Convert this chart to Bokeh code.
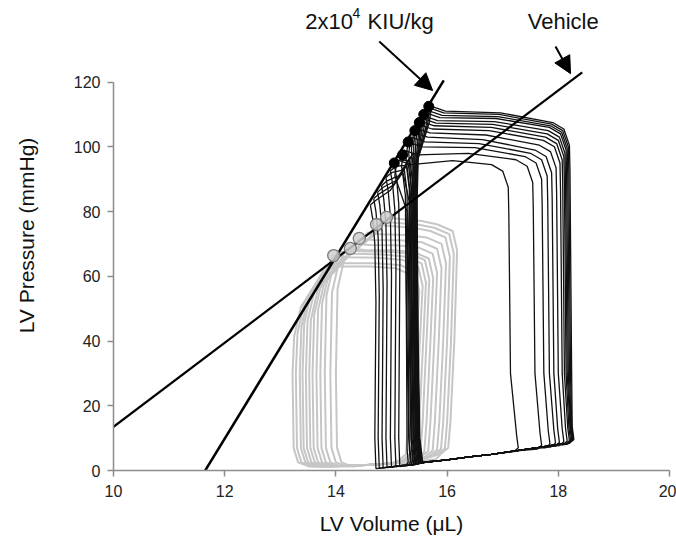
from bokeh.plotting import figure
from bokeh.models import FixedTicker, Label, Arrow, NormalHead
from bokeh.embed import file_html
from bokeh.resources import INLINE

# ---------------- data ----------------
x_ticks = [10, 12, 14, 16, 18, 20]
y_ticks = [0, 20, 40, 60, 80, 100, 120]

# End-systolic pressure-volume relations (two end points each)
espvr_kiu_v = [11.65, 15.94]
espvr_kiu_p = [0.0, 120.5]
espvr_veh_v = [10.0, 18.43]
espvr_veh_p = [13.5, 123.0]

# filled end-systolic points (black loops)
es_dots_v = [15.67, 15.58, 15.50, 15.42, 15.30, 15.20, 15.05]
es_dots_p = [112.5, 110.0, 107.5, 105.0, 101.5, 97.5, 95.0]
# open end-systolic points (grey loops)
es_open_v = [13.96, 14.26, 14.42, 14.73, 14.91]
es_open_p = [66.4, 68.6, 71.7, 76.0, 78.2]

# end-diastolic (filling) curves
bk_ed_v = [14.8, 15.2, 15.6, 16.0, 16.4, 16.8, 17.2, 17.6, 18.0]
bk_ed_p = [1.0, 1.6, 2.5, 3.3, 4.2, 5.0, 6.0, 7.0, 8.1]
gr_ed_v = [13.4, 13.8, 14.2, 14.6, 15.0, 15.4, 15.8]
gr_ed_p = [1.2, 1.3, 1.5, 1.8, 2.2, 2.8, 3.5]

# black loops, large (first beats of the occlusion)
A_esv = [15.72, 15.69, 15.66, 15.62, 15.58, 15.55, 15.52, 15.48, 15.44, 15.40, 15.35, 15.30, 15.22, 15.10]
A_esp = [112.5, 112.0, 111.2, 110.5, 109.6, 108.8, 108.0, 107.0, 105.8, 104.5, 103.0, 101.5, 99.0, 96.0]
A_vleft = [15.46, 15.45, 15.44, 15.43, 15.42, 15.41, 15.40, 15.39, 15.38, 15.36, 15.34, 15.32, 15.30, 15.26]
A_vrt = [18.20, 18.18, 18.16, 18.14, 18.12, 18.10, 18.07, 18.03, 17.96, 17.88, 17.80, 17.70, 17.54, 17.10]
A_ptr = [107.5, 107.0, 106.5, 106.0, 105.0, 104.0, 103.0, 102.0, 100.5, 99.0, 98.0, 97.0, 96.0, 94.5]
A_edv = [18.28, 18.27, 18.26, 18.25, 18.24, 18.22, 18.20, 18.16, 18.10, 18.02, 17.95, 17.85, 17.70, 17.28]
A_edp = [8.6, 8.6, 8.5, 8.5, 8.4, 8.3, 8.2, 8.1, 7.9, 7.7, 7.5, 7.2, 6.8, 6.0]
A_pbl = [2.6, 2.6, 2.5, 2.5, 2.4, 2.4, 2.3, 2.3, 2.2, 2.1, 2.0, 1.9, 1.8, 1.6]

# black loops, narrow (late beats)
B_esv = [14.62, 14.68, 14.75, 14.82, 14.90, 14.98, 15.05]
B_esp = [82.0, 84.0, 86.0, 88.0, 90.5, 92.5, 94.5]
B_vrt = [15.25, 15.28, 15.32, 15.35, 15.38, 15.42, 15.45]
B_ptr = [93.0, 94.0, 95.0, 96.0, 97.0, 98.0, 99.0]
B_edv = [15.30, 15.34, 15.38, 15.42, 15.45, 15.49, 15.52]
B_edp = [1.6, 1.7, 1.8, 1.9, 2.0, 2.1, 2.2]
B_vbl = [14.72, 14.78, 14.85, 14.92, 15.00, 15.08, 15.15]
B_pbl = [0.6, 0.7, 0.8, 0.9, 1.0, 1.1, 1.2]

# grey loops
G_esv = [13.82, 13.90, 13.96, 14.08, 14.18, 14.26, 14.34, 14.42, 14.56, 14.73, 14.82, 14.91]
G_esp = [63.5, 64.5, 66.4, 67.5, 68.2, 68.6, 70.2, 71.7, 73.5, 76.0, 77.0, 78.2]
G_vmin = [13.22, 13.28, 13.35, 13.40, 13.46, 13.52, 13.58, 13.65, 13.72, 13.80, 13.90, 14.00]
G_edv = [15.42, 15.50, 15.56, 15.62, 15.68, 15.75, 15.82, 15.90, 15.98, 16.05, 16.12, 16.18]
G_ptr = [62.5, 63.5, 65.0, 66.0, 67.0, 67.5, 69.0, 70.5, 72.0, 74.0, 75.0, 76.0]
G_edp = [3.0, 3.2, 3.3, 3.5, 3.6, 3.8, 4.0, 4.2, 4.4, 4.6, 4.8, 5.0]


def bottom(ed_v, ed_p, lo, hi):
    xs, ys = [], []
    for v, pp in zip(ed_v, ed_p):
        if lo < v < hi:
            xs.append(v)
            ys.append(pp)
    return xs, ys


def wide_loop(esv, esp, vleft, vrt, ptr, edv, edp, pbl):
    vbl = vleft + 0.1
    xs = [esv, esv - 0.04, vleft + 0.02, vleft, vleft + 0.02, vleft + 0.05, vbl]
    ys = [esp, esp - 5, esp - 16, esp - 30, 40, 10, pbl]
    bx_, by_ = bottom(bk_ed_v, bk_ed_p, vbl + 0.1, edv - 0.1)
    xs += bx_
    ys += by_
    xs += [edv - 0.08, edv, edv - 0.03, vrt + 0.04, vrt + 0.01, vrt, vrt - 0.1, vrt - 0.3,
           (esv + vrt) / 2, esv + 0.25, esv + 0.08, esv]
    ys += [edp - 0.2, edp + 1, edp + 5, 30, ptr - 15, ptr - 7, ptr - 2, ptr,
           (esp + ptr) / 2 + 0.5, esp - 1.5, esp - 0.5, esp]
    return xs, ys


def narrow_loop(esv, esp, vrt, ptr, edv, edp, vbl, pbl):
    xs = [esv, esv + 0.04, esv + 0.08, esv + 0.1, vbl - 0.02, vbl]
    ys = [esp, esp - 4, esp - 12, esp - 30, 10, pbl]
    bx_, by_ = bottom(bk_ed_v, bk_ed_p, vbl + 0.1, edv - 0.1)
    xs += bx_
    ys += by_
    xs += [edv - 0.05, edv, edv - 0.02, vrt + 0.02, vrt, vrt - 0.05,
           (esv + vrt) / 2 + 0.04, esv + 0.1, esv]
    ys += [edp - 0.2, edp + 1, edp + 5, 40, ptr - 8, ptr - 1,
           (esp + ptr) / 2 - 1.0, esp + 1.5, esp]
    return xs, ys


def grey_loop(esv, esp, vmin, edv, ptr, edp):
    xs = [esv, esv - 0.12, vmin + 0.15, vmin + 0.03, vmin, vmin + 0.02, vmin + 0.1, vmin + 0.3]
    ys = [esp, esp - 4, esp - 13, esp - 22, 30, 7, 2.5, 1.2]
    bx_, by_ = bottom(gr_ed_v, gr_ed_p, vmin + 0.4, edv - 0.35)
    xs += bx_
    ys += by_
    xs += [edv - 0.3, edv - 0.16, edv - 0.12, edv - 0.05, edv, edv - 0.08, edv - 0.35,
           (esv + edv) / 2, esv + 0.25, esv]
    ys += [edp, edp + 2, 15, 40, ptr - 8, ptr - 2, ptr, (esp + ptr) / 2, esp - 0.5, esp]
    return xs, ys


p = figure(width=676, height=546, x_range=(10, 20), y_range=(0, 145.2),
           output_backend="svg", toolbar_location=None,
           min_border_left=113, min_border_right=7, min_border_top=0, min_border_bottom=76)
p.outline_line_color = None
p.xgrid.visible = False
p.ygrid.visible = False
p.background_fill_color = "white"
p.border_fill_color = "white"

gx, gy = [], []
for i in range(len(G_esv)):
    xs, ys = grey_loop(G_esv[i], G_esp[i], G_vmin[i], G_edv[i], G_ptr[i], G_edp[i])
    gx.append(xs)
    gy.append(ys)
p.multi_line(gx, gy, line_color="#c6c6c6", line_width=2)

bx, by = [], []
for i in range(len(A_esv)):
    xs, ys = wide_loop(A_esv[i], A_esp[i], A_vleft[i], A_vrt[i], A_ptr[i], A_edv[i], A_edp[i], A_pbl[i])
    bx.append(xs)
    by.append(ys)
for i in range(len(B_esv)):
    xs, ys = narrow_loop(B_esv[i], B_esp[i], B_vrt[i], B_ptr[i], B_edv[i], B_edp[i], B_vbl[i], B_pbl[i])
    bx.append(xs)
    by.append(ys)
p.multi_line(bx, by, line_color="#111111", line_width=1.3)

p.line(espvr_kiu_v, espvr_kiu_p, line_color="black", line_width=2.5)
p.line(espvr_veh_v, espvr_veh_p, line_color="black", line_width=2.2)
p.scatter(es_open_v, es_open_p, size=12, fill_color="#cfcfcf", fill_alpha=0.85,
          line_color="#7a7a7a", line_width=1.3)
p.scatter(es_dots_v, es_dots_p, size=10, fill_color="black", line_color="black")

# arrows and annotations
p.add_layout(Arrow(end=NormalHead(size=17, fill_color="black", line_color="black"),
                   x_start=14.78, y_start=132.5, x_end=15.74, y_end=117.4, line_width=2))
p.add_layout(Arrow(end=NormalHead(size=17, fill_color="black", line_color="black"),
                   x_start=17.95, y_start=131.0, x_end=18.22, y_end=122.6, line_width=2))

fnt = "Liberation Sans"
p.add_layout(Label(x=13.45, y=138.7, text="2x10", text_font=fnt, text_font_size="22px",
                   text_baseline="middle", text_color="#111111"))
p.add_layout(Label(x=14.30, y=141.3, text="4", text_font=fnt, text_font_size="14px",
                   text_baseline="middle", text_color="#111111"))
p.add_layout(Label(x=14.57, y=138.7, text="KIU/kg", text_font=fnt, text_font_size="22px",
                   text_baseline="middle", text_color="#111111"))
p.add_layout(Label(x=17.45, y=138.7, text="Vehicle", text_font=fnt, text_font_size="22px",
                   text_baseline="middle", text_color="#111111"))

for ax in (p.xaxis[0], p.yaxis[0]):
    ax.axis_line_color = "#8c8c8c"
    ax.axis_line_width = 1.5
    ax.major_tick_line_color = "#8c8c8c"
    ax.major_tick_line_width = 1.5
    ax.major_tick_out = 6
    ax.major_tick_in = 0
    ax.minor_tick_line_color = None
    ax.major_label_text_font = fnt
    ax.major_label_text_font_size = "16px"
    ax.major_label_text_color = "#222222"
    ax.axis_label_text_font = fnt
    ax.axis_label_text_font_size = "21px"
    ax.axis_label_text_font_style = "normal"
    ax.axis_label_text_color = "#111111"

p.xaxis[0].ticker = FixedTicker(ticks=x_ticks)
p.yaxis[0].ticker = FixedTicker(ticks=y_ticks)
p.yaxis[0].bounds = (0, 120)
p.xaxis[0].axis_label = "LV Volume (\u03bcL)"
p.yaxis[0].axis_label = "LV Pressure (mmHg)"
p.xaxis[0].major_label_standoff = 8
p.yaxis[0].major_label_standoff = 7
p.xaxis[0].axis_label_standoff = 12
p.yaxis[0].axis_label_standoff = 33

open("out.html", "w").write(file_html(p, INLINE))
